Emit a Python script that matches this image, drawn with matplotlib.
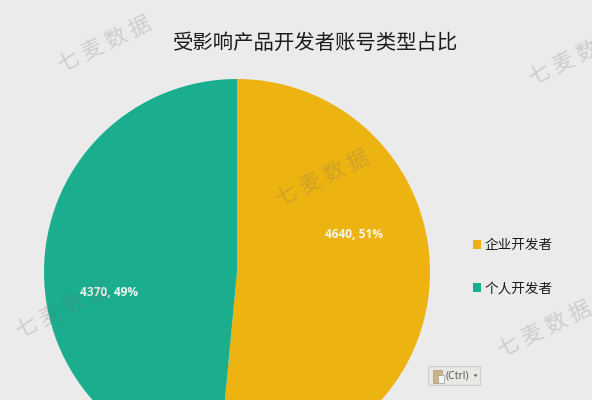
import matplotlib
matplotlib.use("Agg")
import matplotlib.pyplot as plt
from matplotlib.patches import Rectangle, Polygon

plt.rcParams['font.family'] = ['Noto Sans CJK SC', 'DejaVu Sans']

title = "受影响产品开发者账号类型占比"
categories = ["企业开发者", "个人开发者"]
values = [4640, 4370]
percents = [51, 49]
colors = ["#EDB311", "#1AAE8E"]
label_pos = [(354, 234), (109, 292)]  # pixels from top left
watermark = "七 麦 数 据"
watermark_pos = [(105, 45), (576, 58), (323, 179), (63, 311), (545, 330)]

W, H = 592, 400
bg = "#EBEBEB"

fig = plt.figure(figsize=(W / 100, H / 100), dpi=100, facecolor=bg)

# pie is cut off by the bottom of the picture
cx, cy, r = 237, 272, 193
ax = fig.add_axes([(cx - r) / W, (H - cy - r) / H, 2 * r / W, 2 * r / H])
wedges, _ = ax.pie(values, colors=colors, startangle=90, counterclock=False, radius=1)
ax.set_xlim(-1, 1)
ax.set_ylim(-1, 1)

leg = fig.legend(wedges, categories, loc="upper left", bbox_to_anchor=(473 / W, 1 - 238 / H),
                 frameon=False, fontsize=9.8, labelspacing=2.15, handlelength=0.62,
                 handleheight=0.62, handletextpad=0.2, borderpad=0, borderaxespad=0,
                 labelcolor="#1a1a1a")

# overlay in pixel coordinates for texts and the paste button
top = fig.add_axes([0, 0, 1, 1], facecolor="none")
top.set_xlim(0, W)
top.set_ylim(H, 0)
top.axis("off")

top.text(316, 43, title, fontsize=14.7, color="#1c1c1c", ha="center", va="center")

for (x, y), v, p in zip(label_pos, values, percents):
    top.text(x, y, f"{v}, {p}%", fontsize=8.6, fontweight="bold", color="#EFF7F2",
             family=["Open Sans", "DejaVu Sans"], ha="center", va="center")

for x, y in watermark_pos:
    top.text(x, y, watermark, fontsize=15.6, color="#6e6e6e", alpha=0.24,
             rotation=26, rotation_mode="anchor", ha="center", va="center", clip_on=True)

# paste options button
top.add_patch(Rectangle((428, 366), 52, 19, facecolor="#E9E8E4", edgecolor="#CFCDC6", lw=0.8))
top.add_patch(Rectangle((433, 370), 9, 13, facecolor="#C9B48A", edgecolor="#A89A80", lw=0.5))
top.add_patch(Rectangle((438, 375), 6, 8, facecolor="#F4F4F2", edgecolor="#A0A0A0", lw=0.5))
top.text(446, 376, "(Ctrl)", fontsize=7.6, color="#555555", ha="left", va="center",
         family=["Open Sans", "DejaVu Sans"])
top.add_patch(Polygon([(473.5, 374.5), (477.5, 374.5), (475.5, 377)], facecolor="#555555", edgecolor="none"))

fig.savefig("out.png", dpi=100, facecolor=bg)
